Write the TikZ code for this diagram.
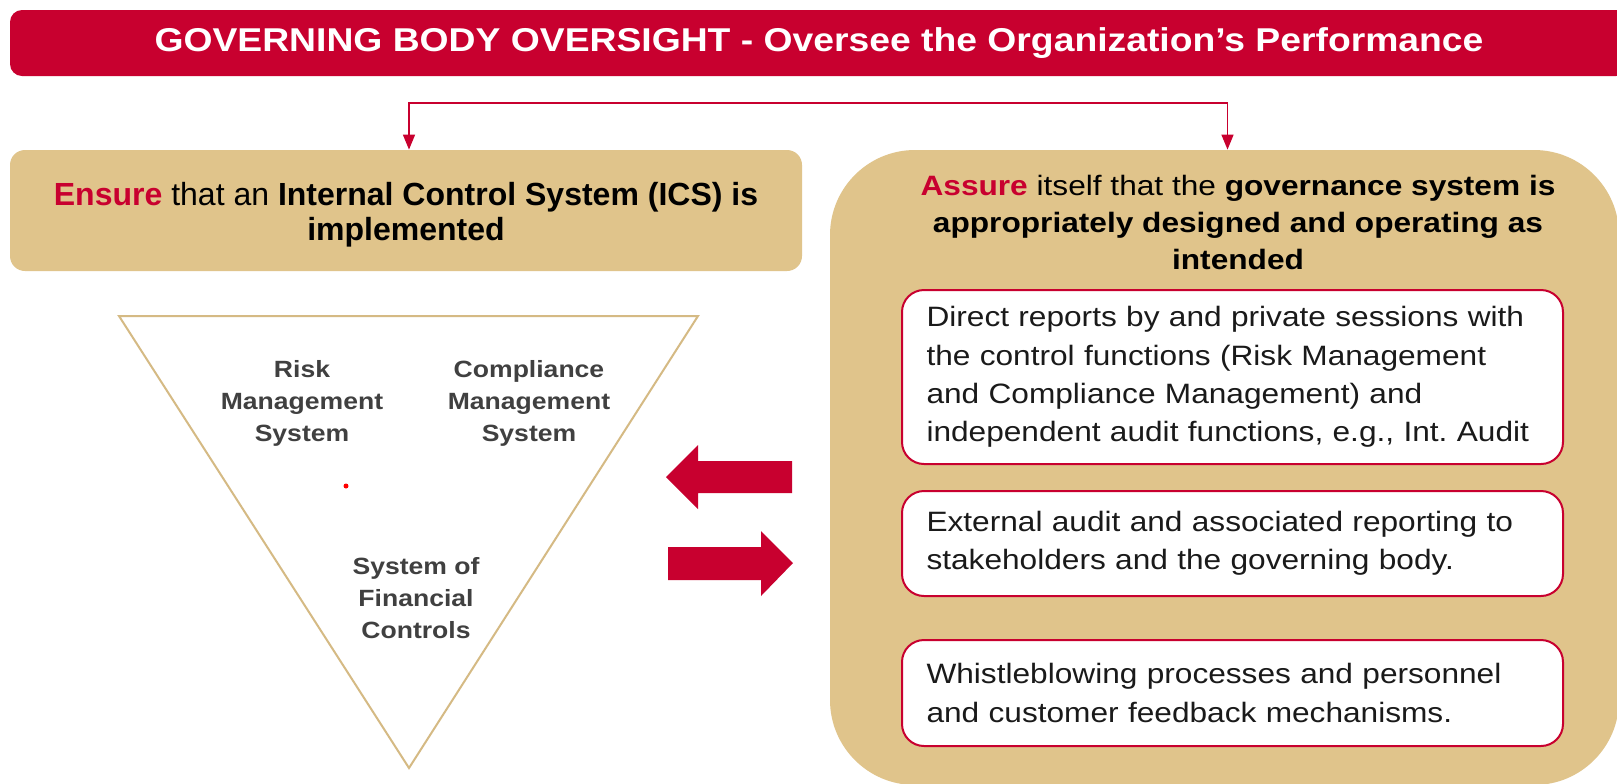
\documentclass[tikz,border=0pt]{standalone}
\usepackage{fontspec}
\setmainfont{Liberation Sans}
\newfontfamily\widesans[FakeStretch=1.13]{Liberation Sans}
\usepackage{tikz}
\usetikzlibrary{
    arrows.meta,
    positioning
}
\definecolor{ocred}{HTML}{C8002F}
\definecolor{octan}{HTML}{E0C48B}
\definecolor{ocgray}{HTML}{404040}
\definecolor{ocink}{HTML}{1A1A1A}

\begin{document}
\begin{tikzpicture}[
    x=0.5pt, y=-0.5pt,
    banner/.style={
        rectangle,
        fill=ocred,
        rounded corners=6pt,
        minimum width=809pt,
        minimum height=33pt,
        text=white,
        font=\widesans\fontsize{16.5}{20}\selectfont\bfseries
    },
    panel/.style={
        rectangle,
        fill=octan,
        inner sep=0pt
    },
    entry/.style={
        rectangle,
        draw=ocred,
        line width=1pt,
        fill=white,
        rounded corners=11pt,
        minimum width=330.5pt,
        text width=306pt,
        inner xsep=12.25pt,
        align=left,
        text=ocink,
        font=\widesans\fontsize{14}{19.2}\selectfont
    },
    trilabel/.style={
        align=center,
        text=ocgray,
        font=\widesans\fontsize{11.75}{16}\selectfont\bfseries
    },
    link/.style={draw=ocred,line width=0.75pt,-{Triangle[length=7.5pt,width=6pt]}},
    bigarrow/.style={fill=ocred}
]
    \useasboundingbox (0,0) rectangle (1617,783);
    \fill[white] (0,0) rectangle (1617,783);

    % Nodes
    \node[banner] (gov) at (819,43) {GOVERNING BODY OVERSIGHT - Oversee the Organization’s Performance};

    \node[panel,rounded corners=7.5pt,minimum width=396pt,minimum height=60.5pt] (ensure) at (406,210.5) {};
    \node[align=center,font=\fontsize{16}{17.5}\selectfont] (ensuretext) at ([yshift=-2pt]ensure.center)
        {{\color{ocred}\textbf{Ensure}} that an \textbf{Internal Control System (ICS) is}\\
         \textbf{implemented}};
    \node[panel,rounded corners=42.5pt,minimum width=394.5pt,minimum height=317.5pt] (assure) at (1224.5,467.5) {};
    \node[align=center,font=\widesans\fontsize{14}{18.5}\selectfont] (assuretitle) at (1238,222)
        {{\color{ocred}\textbf{Assure}} itself that the \textbf{governance system is}\\
         \textbf{appropriately designed and operating as}\\
         \textbf{intended}};

    \node[entry,minimum height=87pt] (direct) at (1232.5,377)
        {Direct reports by and private sessions with\\
         the control functions (Risk Management\\
         and Compliance Management) and\\
         independent audit functions, e.g., Int.\ Audit};
    \node[entry,minimum height=52.5pt,below=12.5pt of direct] (external)
        {External audit and associated reporting to\\
         stakeholders and the governing body.};
    \node[entry,minimum height=53pt,below=21pt of external] (whistle)
        {Whistleblowing processes and personnel\\
         and customer feedback mechanisms.};

    % Triangle
    \draw[octan!95!black,line width=1pt] (119,316) -- (698,316) -- (409,768) -- cycle;
    \node[trilabel] (risk) at (302,403) {Risk\\Management\\System};
    \node[trilabel] (compliance) at (529,403) {Compliance\\Management\\System};
    \node[trilabel] (financial) at (416,598) {System of\\Financial\\Controls};
    \fill[red] (346,486) circle (2.5);

    % Arrows
    \coordinate (split) at (818,103);
    \draw[link] (split) -| ([xshift=1.5pt]ensure.north);
    \draw[link] (split) -| ([xshift=1.5pt]assure.north);
    \fill[bigarrow] (666,477) -- (698,445) -- (698,461) -- (792,461) -- (792,493) -- (698,493) -- (698,509) -- cycle;
    \fill[bigarrow] (793,563) -- (761,531) -- (761,547) -- (668,547) -- (668,580) -- (761,580) -- (761,596) -- cycle;
\end{tikzpicture}
\end{document}
